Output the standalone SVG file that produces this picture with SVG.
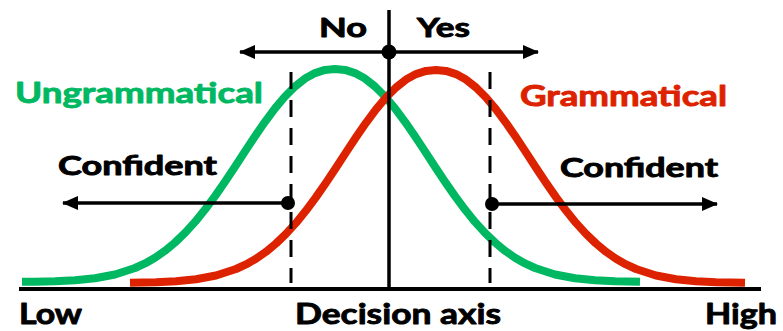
<svg xmlns="http://www.w3.org/2000/svg" width="783" height="331" viewBox="0 0 783 331">
<style>
text{font-family:Lato,"Open Sans","Liberation Sans",sans-serif;font-weight:bold;stroke-width:0.9;stroke-linejoin:round;}
.lbl{font-size:26px;fill:#000;stroke:#000;}
.big{font-size:29px;}
.k{fill:#000;stroke:#000;}
.g{fill:#00B862;stroke:#00B862;}
.r{fill:#DD2200;stroke:#DD2200;}
.line{stroke:#000;stroke-width:3.5;fill:none;}
.dash{stroke:#000;stroke-width:3;stroke-dasharray:17 11;fill:none;}
.curve{fill:none;stroke-width:8;stroke-linejoin:round;stroke-linecap:butt;}
</style>
<defs>
<marker id="ah" markerUnits="userSpaceOnUse" markerWidth="16" markerHeight="14" refX="15" refY="7" orient="auto">
<polygon points="0,0 16,7 0,14" fill="#000"/>
</marker>
</defs>
<g id="curves">
<polyline id="ungrammatical-curve" class="curve" stroke="#00B862" points="22,281.8 35,281.7 55,281.2 75,280.2 95,278.2 115,274.5 135,268 145,263.4 155,257.7 165,250.8 175,242.5 185,232.9 195,221.9 205,209.6 215,196.1 225,181.7 235,166.7 245,151.4 255,136.3 265,121.8 275,108.4 285,96.5 295,86.5 305,78.6 315,73.1 325,69.9 335,69 345,69.9 355,73.1 365,78.6 375,86.5 385,96.5 395,108.4 405,121.8 415,136.3 425,151.4 435,166.7 445,181.7 455,196.1 465,209.6 475,221.9 485,232.9 495,242.5 505,250.8 515,257.7 525,263.4 535,268 555,274.5 575,278.2 595,280.2 615,281.2 640,281.7"/>
<polyline id="grammatical-curve" class="curve" stroke="#DD2200" points="130,282.8 156,282.2 176,281.2 196,279.2 216,275.5 236,269 246,264.4 256,258.7 266,251.8 276,243.5 286,233.9 296,222.9 306,210.6 316,197.1 326,182.7 336,167.7 346,152.4 356,137.3 366,122.8 376,109.4 386,97.5 396,87.5 406,79.6 416,74.1 426,70.9 436,70 446,70.9 456,74.1 466,79.6 476,87.5 486,97.5 496,109.4 506,122.8 516,137.3 526,152.4 536,167.7 546,182.7 556,197.1 566,210.6 576,222.9 586,233.9 596,243.5 606,251.8 616,258.7 626,264.4 636,269 656,275.5 676,279.2 696,281.2 716,282.2 745,282.7"/>
</g>
<g id="connectors">
<line class="dash" x1="291" y1="72" x2="291" y2="283"/>
<line class="dash" x1="490" y1="72" x2="490" y2="283"/>
<line x1="19" y1="289" x2="761" y2="289" stroke="#000" stroke-width="4"/>
<line class="line" x1="389" y1="10" x2="389" y2="289"/>
<line class="line" x1="389" y1="52" x2="240" y2="52" marker-end="url(#ah)"/>
<line class="line" x1="389" y1="52" x2="538" y2="52" marker-end="url(#ah)"/>
<line class="line" x1="288" y1="203" x2="63" y2="203" marker-end="url(#ah)"/>
<line class="line" x1="492" y1="204" x2="717" y2="204" marker-end="url(#ah)"/>
<circle cx="389" cy="52" r="7.5" fill="#000"/>
<circle cx="288" cy="203" r="7" fill="#000"/>
<circle cx="492" cy="204" r="7" fill="#000"/>
</g>
<g id="label-no"><text class="lbl" x="319" y="37" textLength="48" lengthAdjust="spacingAndGlyphs">No</text></g>
<g id="label-yes"><text class="lbl" x="417" y="37" textLength="53" lengthAdjust="spacingAndGlyphs">Yes</text></g>
<g id="label-ungrammatical"><text class="big g" x="15" y="103" textLength="248" lengthAdjust="spacingAndGlyphs">Ungrammatical</text></g>
<g id="label-grammatical"><text class="big r" x="520" y="106" textLength="207" lengthAdjust="spacingAndGlyphs">Grammatical</text></g>
<g id="label-confident-left"><text class="lbl" x="58" y="175" textLength="159" lengthAdjust="spacingAndGlyphs">Confident</text></g>
<g id="label-confident-right"><text class="lbl" x="560" y="177" textLength="158" lengthAdjust="spacingAndGlyphs">Confident</text></g>
<g id="label-low"><text class="big k" x="19" y="324" textLength="63" lengthAdjust="spacingAndGlyphs">Low</text></g>
<g id="label-decision-axis"><text class="big k" x="295" y="324" textLength="206" lengthAdjust="spacingAndGlyphs">Decision axis</text></g>
<g id="label-high"><text class="big k" x="705" y="324" textLength="72" lengthAdjust="spacingAndGlyphs">High</text></g>
</svg>
